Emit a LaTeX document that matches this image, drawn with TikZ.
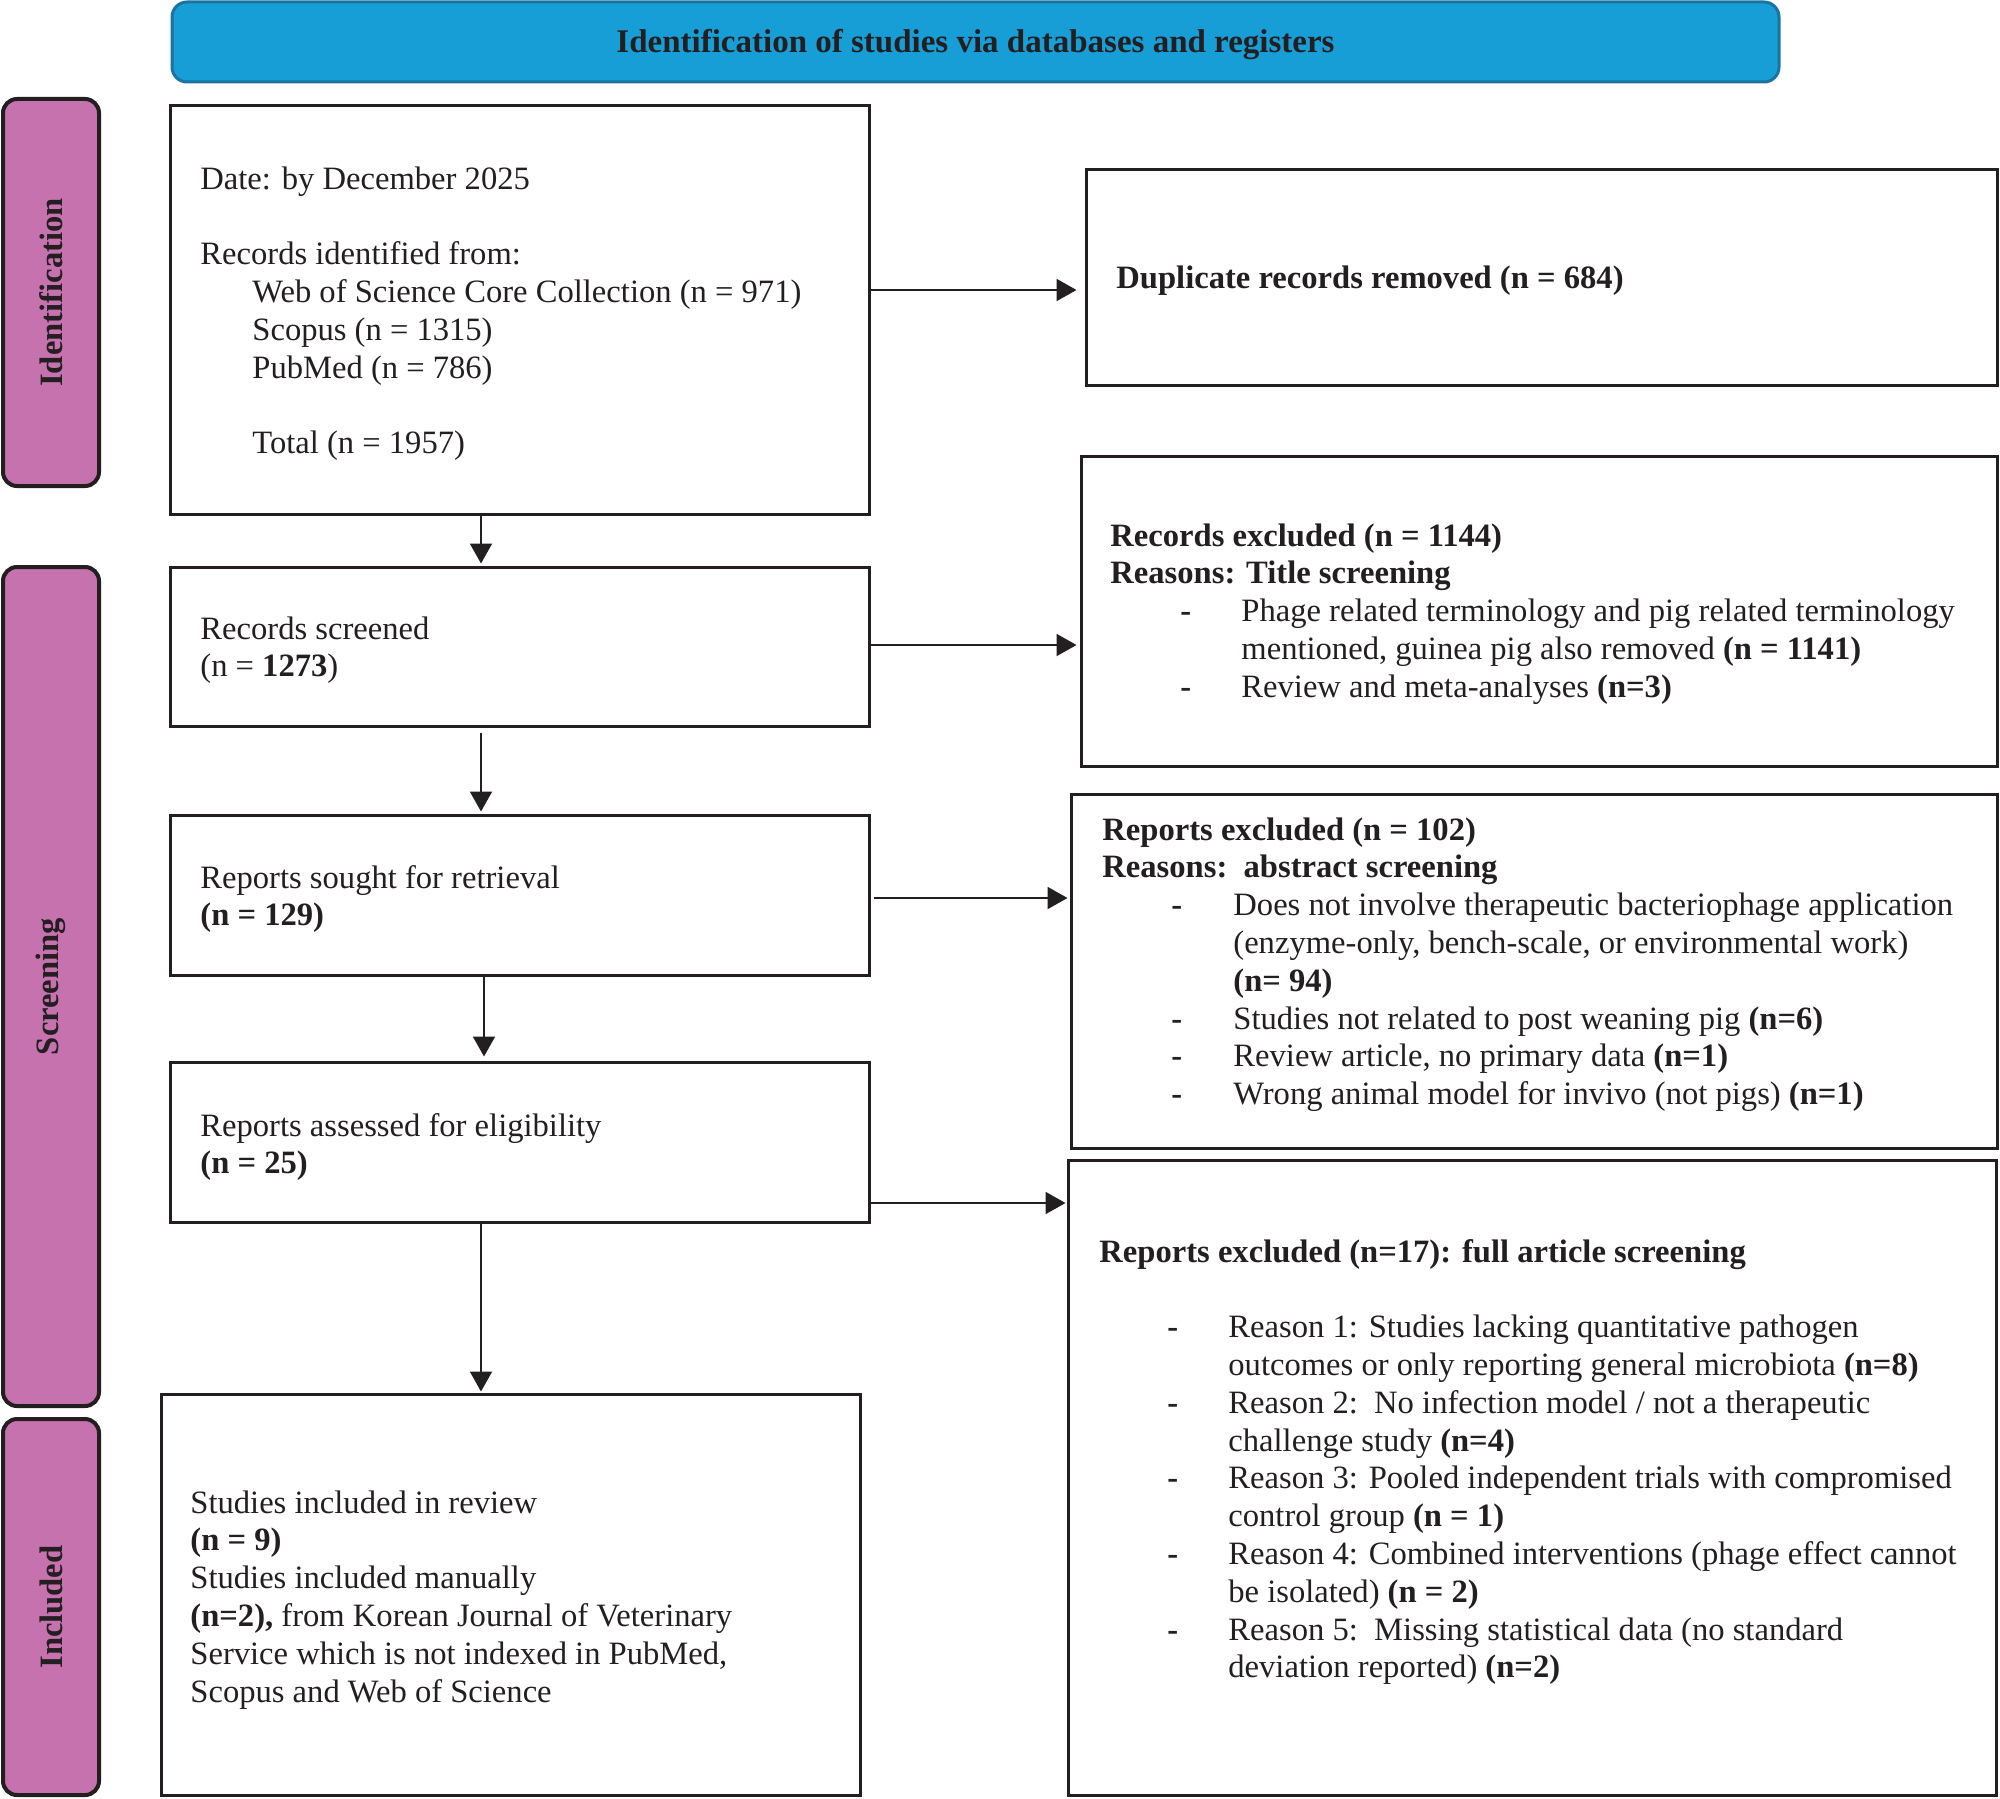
\documentclass[tikz,border=0pt]{standalone}
\usepackage{fontspec}
\setmainfont{Liberation Serif}
\usetikzlibrary{arrows.meta,fit,calc}
\definecolor{txt}{RGB}{35,31,32}
\definecolor{hdrfill}{RGB}{24,158,214}
\definecolor{hdrline}{RGB}{26,116,160}
\definecolor{sidefill}{RGB}{198,114,174}
\newcommand\myBullet[2]{\hspace*{#1}\makebox[#2][l]{\textbf{-}}}
\begin{document}
\begin{tikzpicture}[x=0.5pt,y=-0.5pt,
  box/.style={draw=txt,line width=1.5pt,inner sep=0pt},
  side/.style={draw=txt,line width=2pt,fill=sidefill,rounded corners=7pt,inner sep=0pt},
  hdr/.style={draw=hdrline,line width=1.5pt,fill=hdrfill,rounded corners=7.5pt,inner sep=0pt},
  arr/.style={draw=txt,line width=1pt,-{Triangle[length=10pt,width=11pt]}},
  txtn/.style={anchor=base west,inner sep=0pt,text=txt,font=\fontsize{16.3}{18.9}\selectfont},
  sidetxt/.style={rotate=90,inner sep=0pt,text=txt,font=\fontsize{16.3}{18.9}\selectfont\bfseries}
]
\useasboundingbox (0,0) rectangle (2000,1798);

% header
\node[hdr, fit={(172,2) (1779,82)}] (H) {};
\node[anchor=base,inner sep=0pt,text=txt,font=\fontsize{16.5}{19}\selectfont\bfseries] (tH) at (975.5,53) {Identification of studies via databases and registers};

% side labels
\node[side, fit={(3,99) (99,486)}] (SI) {};
\node[side, fit={(3,567) (99,1406)}] (SS) {};
\node[side, fit={(3,1419) (99,1795)}] (SN) {};
\node[sidetxt] (tSI) at (SI.center) {Identification};
\node[sidetxt] (tSS) at (SS.center) {Screening};
\node[sidetxt] (tSN) at (SN.center) {Included};

% left column boxes
\node[box, fit={(170,106) (869,514)}] (B1) {};
\node[box, fit={(170,567) (869,726)}] (Scr) {};
\node[box, fit={(170,815) (869,975)}] (Sou) {};
\node[box, fit={(170,1062) (869,1222)}] (Ass) {};
\node[box, fit={(161,1394) (860,1795)}] (Inc) {};

% right column boxes
\node[box, fit={(1086,169) (1997,385)}] (Dup) {};
\node[box, fit={(1081,456) (1997,766)}] (RecEx) {};
\node[box, fit={(1071,794) (1997,1148)}] (RepEx) {};
\node[box, fit={(1068,1160) (1996,1795)}] (Full) {};

% texts left
\node[txtn] (tB1) at (200,189) {\parbox[t]{400pt}{Date: by December 2025\\[18.9pt]
Records identified from:\\
\hspace*{26pt}Web of Science Core Collection (n = 971)\\
\hspace*{26pt}Scopus (n = 1315)\\
\hspace*{26pt}PubMed (n = 786)\\[18.9pt]
\hspace*{26pt}Total (n = 1957)}};
\node[txtn] (tScr) at (200,639) {\parbox[t]{400pt}{Records screened\\
(n = \textbf{1273})}};
\node[txtn] (tSou) at (200,888) {\parbox[t]{400pt}{Reports sought for retrieval\\
\textbf{(n = 129)}}};
\node[txtn] (tAss) at (200,1136) {\parbox[t]{400pt}{Reports assessed for eligibility\\
\textbf{(n = 25)}}};
\node[txtn] (tInc) at (190,1513) {\parbox[t]{400pt}{Studies included in review\\
\textbf{(n = 9)}\\
Studies included manually\\
\textbf{(n=2),} from Korean Journal of Veterinary\\
Service which is not indexed in PubMed,\\
Scopus and Web of Science}};

% texts right
\node[txtn] (tDup) at (1116,288) {\textbf{Duplicate records removed (n = 684)}};
\node[txtn] (tRecEx) at (1110,546) {\parbox[t]{460pt}{\textbf{Records excluded (n = 1144)}\\
\textbf{Reasons: Title screening}\\
\myBullet{35pt}{30.5pt}Phage related terminology and pig related terminology\\
\hspace*{65.5pt}mentioned, guinea pig also removed \textbf{(n = 1141)}\\
\myBullet{35pt}{30.5pt}Review and meta-analyses \textbf{(n=3)}}};
\node[txtn] (tRepEx) at (1102,840) {\parbox[t]{460pt}{\textbf{Reports excluded (n = 102)}\\
\textbf{Reasons:\ \ abstract screening}\\
\myBullet{34.5pt}{31pt}Does not involve therapeutic bacteriophage application\\
\hspace*{65.5pt}(enzyme-only, bench-scale, or environmental work)\\
\hspace*{65.5pt}\textbf{(n= 94)}\\
\myBullet{34.5pt}{31pt}Studies not related to post weaning pig \textbf{(n=6)}\\
\myBullet{34.5pt}{31pt}Review article, no primary data \textbf{(n=1)}\\
\myBullet{34.5pt}{31pt}Wrong animal model for invivo (not pigs) \textbf{(n=1)}}};
\node[txtn] (tFull) at (1099,1262) {\parbox[t]{460pt}{\textbf{Reports excluded (n=17): full article screening}\\[18.9pt]
\myBullet{34pt}{30.5pt}Reason 1: Studies lacking quantitative pathogen\\
\hspace*{64.5pt}outcomes or only reporting general microbiota \textbf{(n=8)}\\
\myBullet{34pt}{30.5pt}Reason 2:\ \ No infection model / not a therapeutic\\
\hspace*{64.5pt}challenge study \textbf{(n=4)}\\
\myBullet{34pt}{30.5pt}Reason 3: Pooled independent trials with compromised\\
\hspace*{64.5pt}control group \textbf{(n = 1)}\\
\myBullet{34pt}{30.5pt}Reason 4: Combined interventions (phage effect cannot\\
\hspace*{64.5pt}be isolated) \textbf{(n = 2)}\\
\myBullet{34pt}{30.5pt}Reason 5:\ \ Missing statistical data (no standard\\
\hspace*{64.5pt}deviation reported) \textbf{(n=2)}}};

% connectors
\draw[arr] (B1.east |- 0,290) -- ($(Dup.west |- 0,290)+(-8,0)$);
\draw[arr] (Scr.east |- 0,645) -- ($(RecEx.west |- 0,645)+(-3,0)$);
\draw[arr] ($(Sou.east |- 0,898)+(3,0)$) -- ($(RepEx.west |- 0,898)+(-2,0)$);
\draw[arr] (Ass.east |- 0,1203) -- ($(Full.west |- 0,1203)+(-1,0)$);
\draw[arr] (B1.south -| 481,0) -- ($(Scr.north -| 481,0)+(0,-2)$);
\draw[arr] ($(Scr.south -| 481,0)+(0,5)$) -- ($(Sou.north -| 481,0)+(0,-2)$);
\draw[arr] (Sou.south -| 484,0) -- ($(Ass.north -| 484,0)+(0,-4)$);
\draw[arr] (Ass.south -| 481,0) -- ($(Inc.north -| 481,0)+(0,-1)$);
\end{tikzpicture}
\end{document}
